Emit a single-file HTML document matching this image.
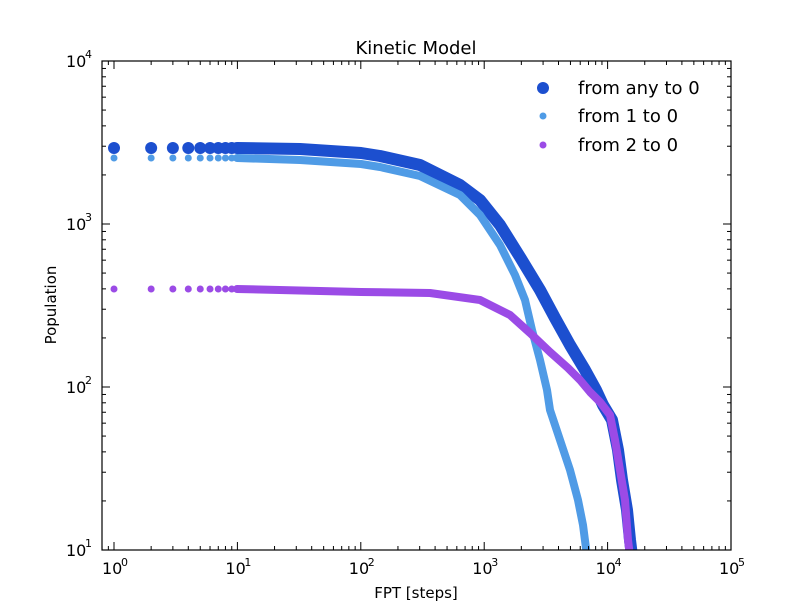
<!DOCTYPE html>
<html><head><style>body{margin:0;background:#fff}svg{display:block;font-family:"DejaVu Sans","Liberation Sans",sans-serif}</style></head>
<body>
<svg id="s" width="812" height="612" xmlns="http://www.w3.org/2000/svg">
<rect width="812" height="612" fill="#fff"/>
<defs><clipPath id="c"><rect x="102" y="61" width="629" height="489"/></clipPath></defs>
<g clip-path="url(#c)" fill="none" stroke-linejoin="round" stroke-linecap="round">
<polyline stroke="#1c4fcf" stroke-width="12" points="237,148 300,149 361,153 380,156 420,165 460,185 480,200 500,225 520,257 540,290 555,318 570,345 585,370 596,390 603,405 612,420 618,450 622,480 627,510 630,540 632,556"/>
<polyline stroke="#4f9be6" stroke-width="8" points="237,158 300,160 361,164 380,167 420,176 460,195 480,215 500,245 515,275 525,300 532,330 540,360 547,390 550,410 560,440 570,470 578,500 583,525 587,556"/>
<polyline stroke="#9b4be6" stroke-width="8" points="237,289 361,292 430,293 480,300 510,315 530,333 550,352 568,368 580,380 590,392 600,402 610,415 615,440 620,470 625,500 628,540 630,556"/>
</g>
<g id="dots"></g>
<rect x="102" y="61" width="629" height="489" fill="none" stroke="#000" stroke-width="1.2"/>
<g id="ticks" stroke="#000" stroke-width="1"></g>
<g id="labels" font-size="16" fill="#000"></g>
<text x="416" y="54" font-size="18" text-anchor="middle">Kinetic Model</text>
<text x="416" y="598" font-size="15" text-anchor="middle">FPT [steps]</text>
<text x="56" y="305" font-size="15" text-anchor="middle" transform="rotate(-90 56 305)">Population</text>
<circle cx="543" cy="88" r="6" fill="#1c4fcf"/><text x="578" y="94" font-size="18">from any to 0</text>
<circle cx="543" cy="116" r="3.5" fill="#4f9be6"/><text x="578" y="122" font-size="18">from 1 to 0</text>
<circle cx="543" cy="145" r="3.5" fill="#9b4be6"/><text x="578" y="151" font-size="18">from 2 to 0</text>
</svg>
<script>
var ns="http://www.w3.org/2000/svg";
function el(p,t,a,txt){var e=document.createElementNS(ns,t);for(var k in a)e.setAttribute(k,a[k]);if(txt)e.textContent=txt;document.getElementById(p).appendChild(e);return e;}
function X(v){return 114+123.4*Math.log10(v);}
function Y(v){return 550-163*(Math.log10(v)-1);}
for(var n=1;n<=9;n++){var x=X(n);
el("dots","circle",{cx:x,cy:148,r:6,fill:"#1c4fcf"});
el("dots","circle",{cx:x,cy:158,r:3.5,fill:"#4f9be6"});
el("dots","circle",{cx:x,cy:289,r:3.5,fill:"#9b4be6"});}
for(var d=-1;d<=5;d++)for(var m=1;m<=9;m++){var x=X(m*Math.pow(10,d));if(x<102||x>731)continue;var L=m==1?8:4;
el("ticks","line",{x1:x,y1:550,x2:x,y2:550-L});el("ticks","line",{x1:x,y1:61,x2:x,y2:61+L});}
for(var d=1;d<=4;d++)for(var m=1;m<=9;m++){var y=Y(m*Math.pow(10,d));if(y<61||y>550)continue;var L=m==1?8:4;
el("ticks","line",{x1:102,y1:y,x2:102+L,y2:y});el("ticks","line",{x1:731,y1:y,x2:731-L,y2:y});}
for(var d=0;d<=5;d++){var x=X(Math.pow(10,d));el("labels","text",{x:x-12,y:574},"10");el("labels","text",{x:x+7,y:566,"font-size":"11"},String(d));}
for(var d=1;d<=4;d++){var y=Y(Math.pow(10,d));el("labels","text",{x:66,y:y+6},"10");el("labels","text",{x:85,y:y-3,"font-size":"11"},String(d));}
</script>
</body></html>
